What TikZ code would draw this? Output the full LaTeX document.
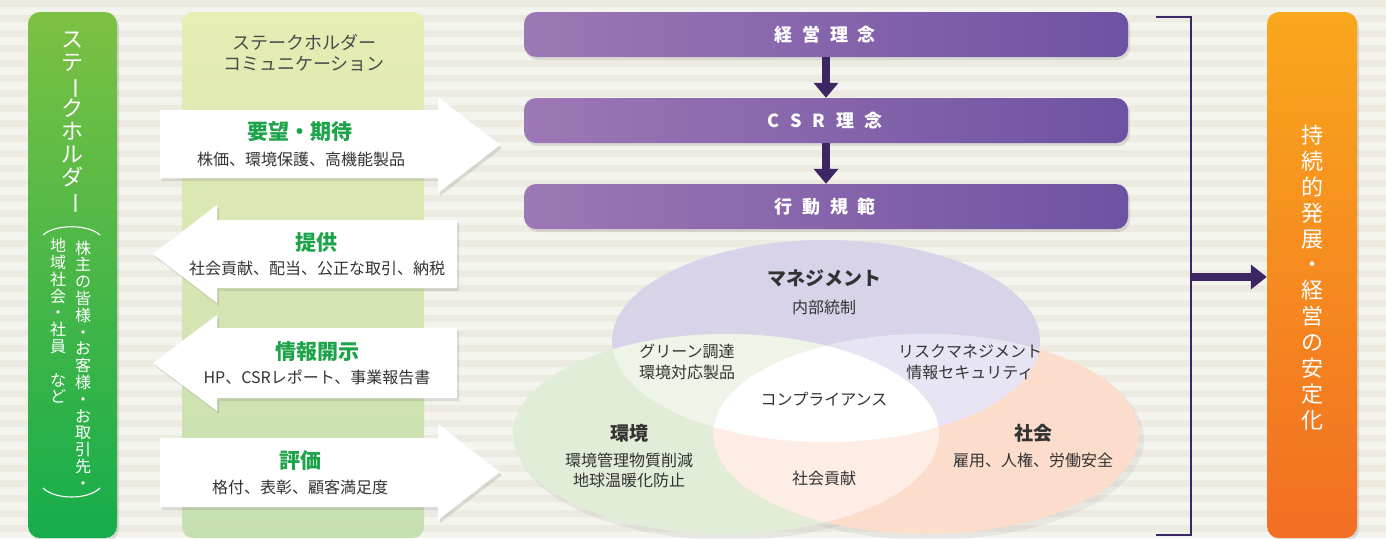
\documentclass[tikz,border=0pt]{standalone}
\usepackage{fontspec}
\setmainfont{Noto Sans CJK JP}
\usepackage{graphicx}
\usetikzlibrary{shadows,arrows.meta}
\definecolor{bgA}{HTML}{F4F4EE}
\definecolor{bgB}{HTML}{EDEAE2}
\definecolor{grA}{HTML}{7CC143}
\definecolor{grB}{HTML}{16AD4B}
\definecolor{lgA}{HTML}{E7EDB3}
\definecolor{lgB}{HTML}{C6DFB2}
\definecolor{puA}{HTML}{9E77B5}
\definecolor{puB}{HTML}{6E52A2}
\definecolor{orA}{HTML}{F9A71C}
\definecolor{orB}{HTML}{F26E23}
\definecolor{dpur}{HTML}{3C2764}
\definecolor{tgreen}{HTML}{1DA34A}
\definecolor{tgray}{HTML}{333333}
\definecolor{hgray}{HTML}{4A4A4A}
\definecolor{cM}{HTML}{D8D3E9}
\definecolor{cE}{HTML}{E1EDD7}
\definecolor{cS}{HTML}{FCDCCA}
\definecolor{cEM}{HTML}{EEF5E8}
\definecolor{cMS}{HTML}{E7E5F3}
\definecolor{cES}{HTML}{FDEDE4}
\newcommand{\vchoon}{\smash{\rotatebox[origin=c]{-90}{ー}}}
\tikzset{
  shd/.style={drop shadow={opacity=0.22, shadow xshift=2pt, shadow yshift=-3pt}},
  bigarrow/.style={fill=white, shd},
  pbox/.style={left color=puA, right color=puB, rounded corners=12pt, minimum width=604pt, minimum height=45pt, inner sep=0pt, shd},
  ptitle/.style={text=white, font=\bfseries\fontsize{18}{20}\selectfont, inner sep=0pt},
  darr/.style={draw=dpur, line width=8pt, -{Triangle[length=15pt,width=24pt]}},
  atitle/.style={text=tgreen, font=\bfseries\fontsize{21}{23}\selectfont, inner sep=0pt},
  asub/.style={text=tgray, font=\fontsize{16}{18}\selectfont, inner sep=0pt},
  vhead/.style={text=tgray, font=\bfseries\fontsize{19}{21}\selectfont, inner sep=0pt},
  vsub/.style={text=tgray, font=\fontsize{16}{20.5}\selectfont, inner sep=0pt, align=center},
  vstack/.style={text=white, inner sep=0pt, align=center},
}
\begin{document}
\begin{tikzpicture}[x=1pt,y=-1pt]
\useasboundingbox (0,0) rectangle (1386,538);
% background stripes
\fill[bgA] (0,0) rectangle (1386,538);
\foreach \i in {0,...,36} { \fill[bgB] (0,\i*15) rectangle (1386,\i*15+7); }

% left green bar
\node[top color=grA, bottom color=grB, rounded corners=12pt, minimum width=89pt, minimum height=526pt, inner sep=0pt, shd] (stkbar) at (72.5,275) {};
\node[vstack, font=\fontsize{22}{22.9}\selectfont] (stk) at (72,120) {ス\\テ\\\vchoon\\ク\\ホ\\ル\\ダ\\\vchoon};
\node[vstack, font=\fontsize{16}{16.8}\selectfont] (stkA) at (83,365) {株\\主\\の\\皆\\様\\・\\お\\客\\様\\・\\お\\取\\引\\先\\・};
\node[vstack, font=\fontsize{16}{16.8}\selectfont] (stkB) at (58,321) {地\\域\\社\\会\\・\\社\\員\\　\\な\\ど};
\draw[white, line width=1.1pt] (43,235) .. controls (55,224) and (88,224) .. (100,235);
\draw[white, line width=1.1pt] (43,488) .. controls (55,500) and (88,500) .. (100,488);

% light green column
\node[top color=lgA, bottom color=lgB, rounded corners=11pt, minimum width=242pt, minimum height=526pt, inner sep=0pt] (comcol) at (303,275) {};
\node[text=hgray, font=\fontsize{18}{20.5}\selectfont, align=center, inner sep=0pt] (hdr) at (304,53) {ステークホルダー\\コミュニケーション};

% big arrows
\path[bigarrow] (160,110) -- (438,110) -- (438,97) -- (500,145) -- (438,193) -- (438,178) -- (160,178) -- cycle;
\path[bigarrow] (457,220) -- (217,220) -- (217,205) -- (153,254) -- (217,303) -- (217,288) -- (457,288) -- cycle;
\path[bigarrow] (457,328) -- (217,328) -- (217,315) -- (153,363) -- (217,411) -- (217,398) -- (457,398) -- cycle;
\path[bigarrow] (160,438) -- (438,438) -- (438,424) -- (500,472) -- (438,520) -- (438,507) -- (160,507) -- cycle;
\node[atitle] (a1t) at (300,132) {要望・期待};
\node[asub] (a1s) at (301,159) {株価、環境保護、高機能製品};
\node[atitle] (a2t) at (316,243) {提供};
\node[asub] (a2s) at (317,268) {社会貢献、配当、公正な取引、納税};
\node[atitle] (a3t) at (317,352) {情報開示};
\node[asub] (a3s) at (317,377) {HP、CSRレポート、事業報告書};
\node[atitle] (a4t) at (300,461) {評価};
\node[asub] (a4s) at (300,487) {格付、表彰、顧客満足度};

% purple boxes
\node[pbox] (b1) at (826,34.5) {};
\node[pbox] (b2) at (826,120.5) {};
\node[pbox] (b3) at (826,206.5) {};
\node[ptitle] (b1t) at (825,34.5) {経\hspace{10pt}営\hspace{10pt}理\hspace{10pt}念};
\node[ptitle] (b2t) at (825,120.5) {C\hspace{11pt}S\hspace{11pt}R\hspace{11pt}理\hspace{10pt}念};
\node[ptitle] (b3t) at (825,206.5) {行\hspace{10pt}動\hspace{10pt}規\hspace{10pt}範};
\draw[darr] (b1.south) -- (b2.north);
\draw[darr] (b2.south) -- (b3.north);

% venn
\fill[black, opacity=0.05] (730,439) ellipse [x radius=214, y radius=101];
\fill[black, opacity=0.05] (930,439) ellipse [x radius=214, y radius=101];
\fill[cM] (826,341) ellipse [x radius=214, y radius=101];
\fill[cE] (726,434) ellipse [x radius=213, y radius=100];
\fill[cS] (926,434) ellipse [x radius=213, y radius=100];
\begin{scope}
  \clip (726,434) ellipse [x radius=213, y radius=100];
  \fill[cEM] (826,341) ellipse [x radius=214, y radius=101];
\end{scope}
\begin{scope}
  \clip (826,341) ellipse [x radius=214, y radius=101];
  \fill[cMS] (926,434) ellipse [x radius=213, y radius=100];
\end{scope}
\begin{scope}
  \clip (726,434) ellipse [x radius=213, y radius=100];
  \fill[cES] (926,434) ellipse [x radius=213, y radius=100];
\end{scope}
\begin{scope}
  \clip (726,434) ellipse [x radius=213, y radius=100];
  \clip (826,341) ellipse [x radius=214, y radius=101];
  \fill[white] (926,434) ellipse [x radius=213, y radius=100];
\end{scope}
\node[vhead] (vm) at (824,278) {マネジメント};
\node[vsub] (vms) at (824,307) {内部統制};
\node[vsub] (vem) at (687,362) {グリーン調達\\環境対応製品};
\node[vsub] (vmsx) at (970,362) {リスクマネジメント\\情報セキュリティ};
\node[vsub] (vc) at (824,399) {コンプライアンス};
\node[vhead] (ve) at (629,433) {環境};
\node[vsub] (ves) at (629,470.5) {環境管理物質削減\\地球温暖化防止};
\node[vsub] (vsc) at (824,478) {社会貢献};
\node[vhead] (vs) at (1033,433) {社会};
\node[vsub] (vss) at (1033,460) {雇用、人権、労働安全};

% orange bar
\node[top color=orA, bottom color=orB, rounded corners=12pt, minimum width=90pt, minimum height=526pt, inner sep=0pt, shd] (goal) at (1312,275) {};
\node[vstack, font=\fontsize{22}{25.9}\selectfont] (goalt) at (1312,277.5) {持\\続\\的\\発\\展\\・\\経\\営\\の\\安\\定\\化};

% bracket and arrow
\draw[dpur, line width=1.8pt] (1156,17) -- (1191,17) -- (1191,535) -- (1156,535);
\coordinate (bk) at (1191,277);
\draw[dpur, line width=8pt, -{Triangle[length=16pt,width=24pt]}] (bk) -- (bk -| goal.west);
\end{tikzpicture}
\end{document}
